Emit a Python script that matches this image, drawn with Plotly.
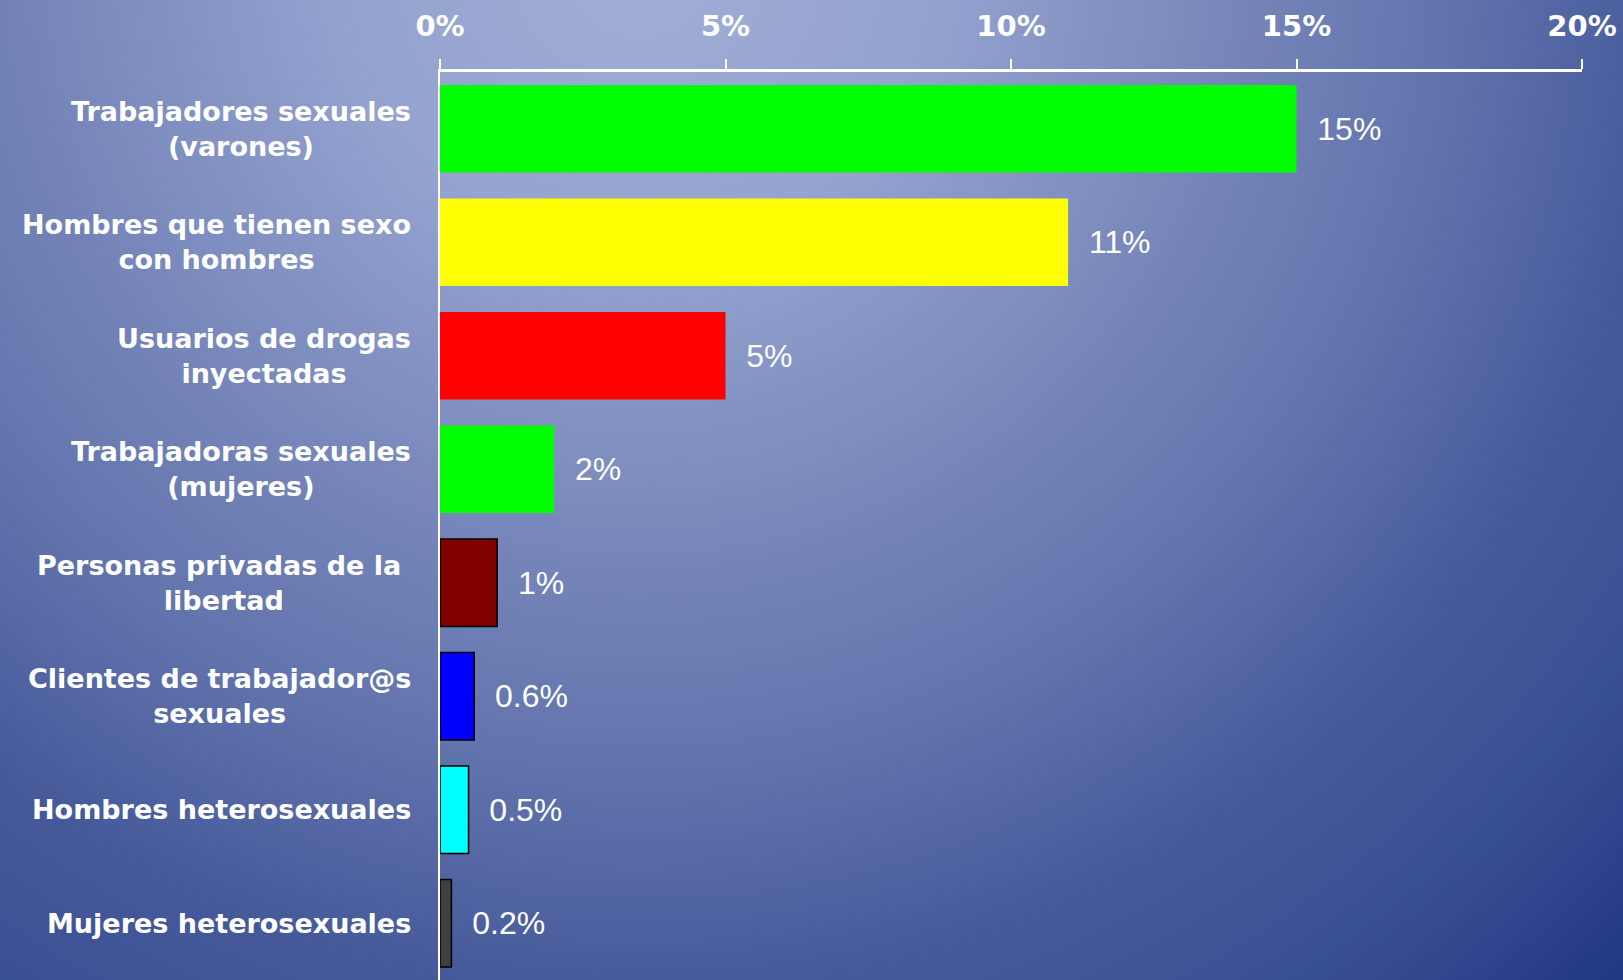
import plotly.graph_objects as go
import urllib.parse

categories = [
    "Trabajadores sexuales<br>(varones)",
    "Hombres que tienen sexo<br>con hombres",
    "Usuarios de drogas<br>inyectadas",
    "Trabajadoras sexuales<br>(mujeres)",
    "Personas privadas de la\u00a0<br>libertad",
    "Clientes de trabajador@s<br>sexuales",
    "Hombres heterosexuales",
    "Mujeres heterosexuales",
]
values = [15, 11, 5, 2, 1, 0.6, 0.5, 0.2]
value_labels = ["15%", "11%", "5%", "2%", "1%", "0.6%", "0.5%", "0.2%"]
bar_colors = ["#00FF00", "#FFFF00", "#FF0000", "#00FF00", "#800000", "#0000FF", "#00FFFF", "#404040"]
outline_widths = [0, 0, 0, 0, 1.5, 1.5, 1.5, 1.5]
tick_vals = [0, 5, 10, 15, 20]
tick_labels = ["0%", "5%", "10%", "15%", "20%"]

W, H = 1623, 980
L, R, T, B = 440, 41, 72, 0
pw, ph = W - L - R, H - T - B

ykeys = list(range(len(categories)))

fig = go.Figure()
fig.add_trace(go.Bar(
    y=ykeys, x=values, orientation="h",
    marker=dict(color=bar_colors, line=dict(color="black", width=outline_widths)),
    text=["\u00a0\u00a0" + t for t in value_labels],
    textposition="outside",
    textfont=dict(family="Liberation Sans, Arial", size=32, color="white"),
    cliponaxis=False,
    hoverinfo="skip",
))

annotations = []
for k, c in zip(ykeys, categories):
    annotations.append(dict(
        x=0, xref="paper", y=k, yref="y", xanchor="right", yanchor="middle",
        xshift=-27, text=c, align="center", showarrow=False,
        font=dict(family="DejaVu Sans", size=27, color="white", weight="bold"),
    ))

svg = (
    "<svg xmlns='http://www.w3.org/2000/svg' width='1623' height='980' viewBox='0 0 1623 980' preserveAspectRatio='none'>"
    "<defs><radialGradient id='g' gradientUnits='userSpaceOnUse' cx='640' cy='-40' r='1440'>"
    "<stop offset='0' stop-color='#a0aed6'/>"
    "<stop offset='0.2' stop-color='#94a3cf'/>"
    "<stop offset='0.42' stop-color='#7585b9'/>"
    "<stop offset='0.56' stop-color='#6274ad'/>"
    "<stop offset='0.72' stop-color='#45599a'/>"
    "<stop offset='0.83' stop-color='#3b5195'/>"
    "<stop offset='1' stop-color='#1f3480'/>"
    "</radialGradient></defs>"
    "<rect width='1623' height='980' fill='url(#g)'/></svg>"
)
src = "data:image/svg+xml;charset=utf-8," + urllib.parse.quote(svg)

fig.update_layout(
    width=W, height=H,
    margin=dict(l=L, r=R, t=T, b=B, pad=0),
    paper_bgcolor="#5668a4",
    plot_bgcolor="rgba(0,0,0,0)",
    showlegend=False,
    bargap=0.23,
    annotations=annotations,
    images=[dict(
        source=src, xref="paper", yref="paper",
        x=-L / pw, y=1 + T / ph, sizex=W / pw, sizey=H / ph,
        xanchor="left", yanchor="top", sizing="stretch", layer="below",
    )],
    xaxis=dict(
        side="top", range=[0, 20], tickvals=tick_vals, ticktext=tick_labels,
        ticks="outside", ticklen=10, tickwidth=2, tickcolor="white",
        showline=True, linecolor="white", linewidth=3, showgrid=False, zeroline=False,
        tickfont=dict(family="DejaVu Sans", size=29, color="white", weight="bold"),
        ticklabelstandoff=11, fixedrange=True,
    ),
    yaxis=dict(
        range=[len(categories) - 0.5, -0.5], showticklabels=False, ticks="",
        showline=True, linecolor="white", linewidth=2, showgrid=False, zeroline=False,
        fixedrange=True,
    ),
)

fig.write_html(
    "out.html",
    config={"displayModeBar": False},
    post_script="document.body.style.margin='0';document.body.style.overflow='hidden';",
)
